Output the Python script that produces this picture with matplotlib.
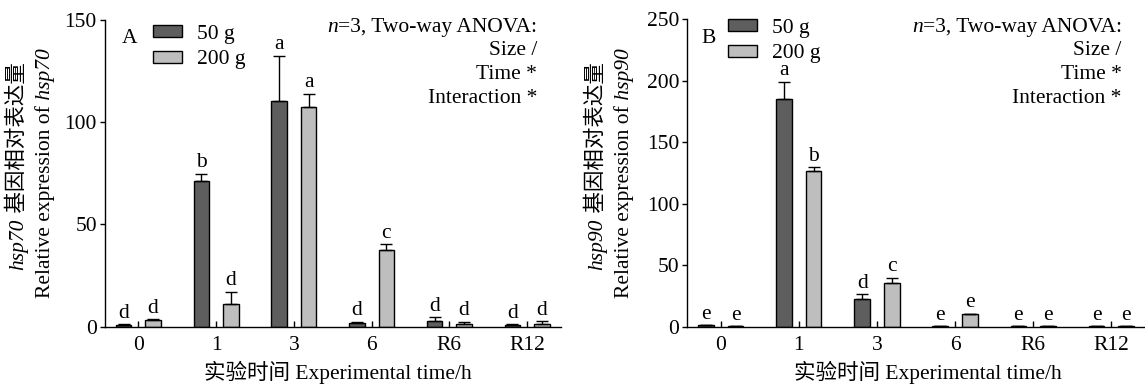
import numpy as np
import matplotlib
matplotlib.use('Agg')
import matplotlib.pyplot as plt

plt.rcParams['font.family'] = ['Liberation Serif', 'Noto Sans CJK SC']
plt.rcParams['font.size'] = 15.5

# === Data ===
times = ['0', '1', '3', '6', 'R6', 'R12']
groups = ['50 g', '200 g']

hsp70_50 = [1.0, 71.1, 110.2, 2.0, 3.0, 0.8]
hsp70_50_err = [0.2, 3.7, 22.2, 0.3, 1.7, 0.3]
hsp70_200 = [3.4, 11.2, 107.6, 37.6, 1.3, 1.5]
hsp70_200_err = [0.3, 6.0, 6.2, 2.8, 1.0, 1.1]
hsp70_letters_50 = ['d', 'b', 'a', 'd', 'd', 'd']
hsp70_letters_200 = ['d', 'd', 'a', 'c', 'd', 'd']

hsp90_50 = [1.0, 185.4, 22.8, 0.2, 0.2, 0.2]
hsp90_50_err = [0.2, 13.6, 3.6, 0.0, 0.0, 0.0]
hsp90_200 = [0.2, 126.8, 35.8, 10.1, 0.2, 0.2]
hsp90_200_err = [0.0, 2.7, 4.0, 0.3, 0.0, 0.0]
hsp90_letters_50 = ['e', 'a', 'd', 'e', 'e', 'e']
hsp90_letters_200 = ['e', 'b', 'c', 'e', 'e', 'e']

anova_lines = [[('n', 'italic'), ('=3, Two-way ANOVA:', 'normal')],
               [('Size /', 'normal')],
               [('Time *', 'normal')],
               [('Interaction *', 'normal')]]

W_PX, H_PX = 1145, 385
COL_DARK = '#5e5e5e'
COL_LIGHT = '#bebebe'


def rich_text(fig, pieces, x, y, vertical=False, align='center', **kw):
    """ Place text made of pieces with different styles; x, y in image pixels (baseline) """
    r = fig.canvas.get_renderer()
    W, H = fig.bbox.width, fig.bbox.height
    texts, sizes = [], []
    for s, style in pieces:
        t = fig.text(0, 0, s, fontstyle=style, rotation=90 if vertical else 0,
                     rotation_mode='anchor', ha='left', va='baseline', **kw)
        bb = t.get_window_extent(r)
        texts.append(t)
        sizes.append(bb.height if vertical else bb.width)
    total = sum(sizes)
    pos = {'left': 0, 'center': -total / 2, 'right': -total}[align]
    for t, size in zip(texts, sizes):
        if vertical:
            t.set_position((x / W, (H - y + pos) / H))
        else:
            t.set_position(((x + pos) / W, (H - y) / H))
        pos += size


def draw_panel(ax, v50, e50, v200, e200, l50, l200, yticks):
    x = np.arange(len(times))
    w = 0.2
    off = 0.19
    ax.bar(x - off, v50, w, color=COL_DARK, edgecolor='black', linewidth=1.0, label=groups[0], zorder=2)
    ax.bar(x + off, v200, w, color=COL_LIGHT, edgecolor='black', linewidth=1.0, label=groups[1], zorder=2)
    ax.errorbar(x - off, v50, yerr=[np.zeros(len(x)), e50], fmt='none', ecolor='black',
                elinewidth=1.0, capsize=4, capthick=1.0, zorder=3)
    ax.errorbar(x + off, v200, yerr=[np.zeros(len(x)), e200], fmt='none', ecolor='black',
                elinewidth=1.0, capsize=4, capthick=1.0, zorder=3)
    for xi, v, e, s in zip(x - off, v50, e50, l50):
        ax.annotate(s, (xi, v + e), xytext=(0, 4.7), textcoords='offset points',
                    ha='center', va='baseline', fontsize=15.5)
    for xi, v, e, s in zip(x + off, v200, e200, l200):
        ax.annotate(s, (xi, v + e), xytext=(0, 4.7), textcoords='offset points',
                    ha='center', va='baseline', fontsize=15.5)

    ax.set_xlim(-0.435, 5.43)
    ax.set_ylim(0, yticks[-1])
    ax.set_yticks(yticks)
    ax.set_xticks(x)
    ax.set_xticklabels(times)
    ax.spines['top'].set_visible(False)
    ax.spines['right'].set_visible(False)
    for sp in ['left', 'bottom']:
        ax.spines[sp].set_linewidth(1.0)
    ax.tick_params(axis='x', direction='in', length=4, width=1.0, pad=7, labelsize=15.5)
    ax.tick_params(axis='y', direction='out', length=3.5, width=1.0, pad=2, labelsize=15.5)
    ax.patch.set_alpha(0)


fig = plt.figure(figsize=(W_PX / 100, H_PX / 100), dpi=100)

axA = fig.add_axes([104.5 / W_PX, 1 - 326.7 / H_PX, 456 / W_PX, 306.7 / H_PX])
axB = fig.add_axes([686.7 / W_PX, 1 - 326.7 / H_PX, 458.3 / W_PX, 307.4 / H_PX])

draw_panel(axA, hsp70_50, hsp70_50_err, hsp70_200, hsp70_200_err,
           hsp70_letters_50, hsp70_letters_200, [0, 50, 100, 150])
draw_panel(axB, hsp90_50, hsp90_50_err, hsp90_200, hsp90_200_err,
           hsp90_letters_50, hsp90_letters_200, [0, 50, 100, 150, 200, 250])

# legends
for ax, lx, ly in [(axA, 153.3, 25), (axB, 728.3, 19)]:
    ax.legend(loc='upper left', bbox_to_anchor=(lx / W_PX, 1 - ly / H_PX),
              bbox_transform=fig.transFigure, frameon=False, fontsize=15.5,
              handlelength=1.35, handleheight=0.5, handletextpad=0.7,
              labelspacing=0.3, borderpad=0, borderaxespad=0)

# panel letters
fig.text(121.7 / W_PX, 1 - 43.3 / H_PX, 'A', ha='left', va='baseline', fontsize=15.5)
fig.text(701.7 / W_PX, 1 - 43.3 / H_PX, 'B', ha='left', va='baseline', fontsize=15.5)

# ANOVA notes
for xr in [537, 1121.7]:
    for line, yb in zip(anova_lines, [31.7, 55.3, 79.3, 103.3]):
        rich_text(fig, line, xr, yb, align='right', fontsize=15.5)

# x labels
for xc in [337.5, 927.5]:
    fig.text(xc / W_PX, 1 - 379 / H_PX, '实验时间 Experimental time/h',
             ha='center', va='baseline', fontsize=15.5)

# y labels
for gene, x1, x2 in [('hsp70', 23, 50), ('hsp90', 602, 629)]:
    rich_text(fig, [(gene, 'italic'), (' 基因相对表达量', 'normal')], x1, 166,
              vertical=True, align='center', fontsize=15.5)
    rich_text(fig, [('Relative expression of', 'normal'), (' ' + gene, 'italic')], x2, 173,
              vertical=True, align='center', fontsize=15.5)

fig.savefig('out.png', dpi=100)
